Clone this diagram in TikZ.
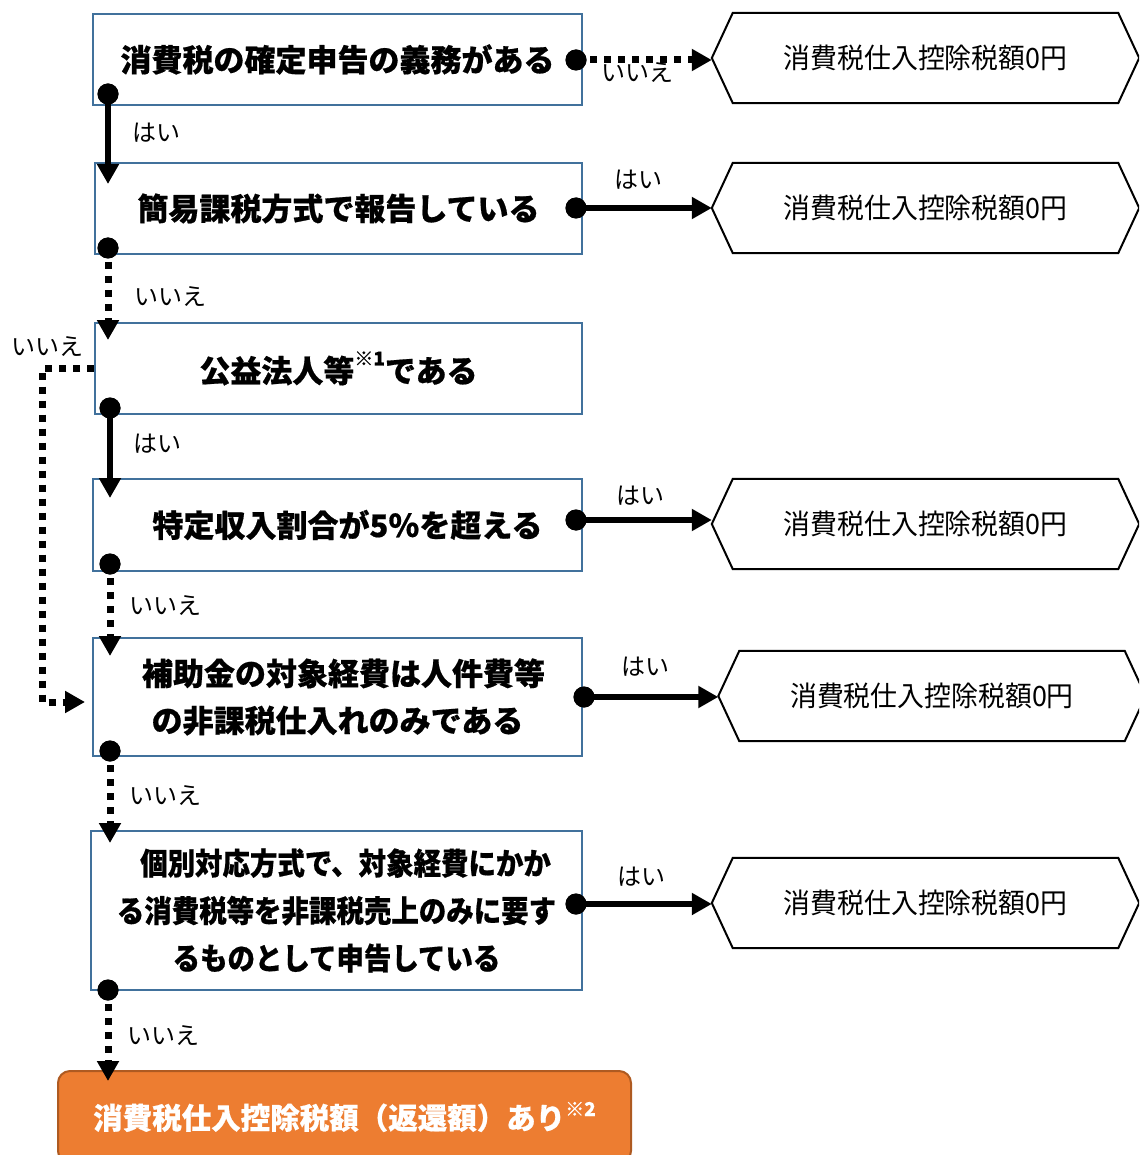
\documentclass[tikz,border=0pt]{standalone}
\usepackage{fontspec}
\newfontfamily\jp{Noto Sans CJK JP}
\newfontfamily\jpb[BoldFeatures={FakeBold=0.6}]{Noto Sans CJK JP}
\newfontfamily\jpc[FakeStretch=0.9,BoldFeatures={FakeBold=0.6}]{Noto Sans CJK JP}
\newfontfamily\jph[FakeStretch=0.96]{Noto Sans CJK JP}
\usetikzlibrary{arrows.meta,calc}
\definecolor{boxblue}{RGB}{65,113,156}
\definecolor{orangefill}{RGB}{237,125,49}
\definecolor{orangeline}{RGB}{174,90,33}
\begin{document}
\begin{tikzpicture}[x=1pt,y=-1pt,
  qbox/.style={draw=boxblue,line width=2pt,fill=white,inner sep=0pt,align=center,
    font={\jpb\bfseries\fontsize{31pt}{47pt}\selectfont}},
  qboxc/.style={qbox,font={\jpc\bfseries\fontsize{30.5pt}{47.5pt}\selectfont}},
  hextext/.style={inner sep=0pt,minimum width=385pt,minimum height=90pt,
    font={\jph\fontsize{28pt}{28pt}\selectfont}},
  hexline/.style={draw=black,line width=2pt,line join=miter},
  endbox/.style={draw=orangeline,line width=2pt,fill=orangefill,rounded corners=12pt,
    inner sep=0pt,minimum width=573pt,minimum height=92pt,text=white,
    font={\jpb\bfseries\fontsize{29.5pt}{29.5pt}\selectfont}},
  dotn/.style={circle,fill=black,minimum size=21pt,inner sep=0pt},
  solidarrow/.style={line width=6.5pt,-{Triangle[length=20pt,width=21pt]}},
  dotarrow/.style={line width=7pt,dash pattern=on 7pt off 7pt,-{Triangle[length=20pt,width=21pt]}},
  lbl/.style={inner sep=0pt,font={\jp\fontsize{24pt}{24pt}\selectfont}}]
\useasboundingbox (0,0) rectangle (1139,1155);
\clip (0,0) rectangle (1139,1155);

% question boxes
\node[qbox,minimum width=489pt,minimum height=91pt] (b1) at (337.5,59.5) {消費税の確定申告の義務がある};
\node[qbox,minimum width=487pt,minimum height=91pt] (b2) at (338.5,208.5) {簡易課税方式で報告している};
\node[qbox,minimum width=487pt,minimum height=91pt] (b3) at (338.5,368.5)
  {公益法人等\raisebox{17pt}{\fontsize{19pt}{19pt}\selectfont ※1}である};
\node[qbox,minimum width=489pt,minimum height=92pt] (b4) at (337.5,525)
  {\hspace*{20pt}特定収入割合が5％を超える};
\node[qbox,minimum width=489pt,minimum height=118pt] (b5) at (337.5,697)
  {\hspace*{12pt}補助金の対象経費は人件費等\\の非課税仕入れのみである};
\node[qboxc,minimum width=491pt,minimum height=159pt] (b6) at (336.5,910.5)
  {\hspace*{18pt}個別対応方式で、対象経費にかか\\る消費税等を非課税売上のみに要す\\るものとして申告している};
\node[endbox] (e) at (344.5,1117)
  {消費税仕入控除税額（返還額）あり\raisebox{13pt}{\fontsize{19pt}{19pt}\selectfont ※2}};

% result hexagons
\foreach \n/\x/\y in {h1/925.5/58,h2/925.5/208,h3/925.5/524,h4/932/696,h5/925.5/903}{
  \node[hextext] (\n) at (\x,\y) {消費税仕入控除税額0円};
  \draw[hexline] ($(\n.west)+(-21,0)$) -- (\n.north west) -- (\n.north east)
    -- ($(\n.east)+(21,0)$) -- (\n.south east) -- (\n.south west) -- cycle;
  \coordinate (\n-t) at ($(\n.west)+(-21,0)$);
}

% start dots
\node[dotn] (p1r) at (576,60) {};
\node[dotn] (p1d) at (108,94) {};
\node[dotn] (p2r) at (576,208) {};
\node[dotn] (p2d) at (108,248) {};
\node[dotn] (p3d) at (110,408) {};
\node[dotn] (p4r) at (576,520) {};
\node[dotn] (p4d) at (110,564) {};
\node[dotn] (p5r) at (584,697) {};
\node[dotn] (p5d) at (110,751) {};
\node[dotn] (p6r) at (576,904) {};
\node[dotn] (p6d) at (108,990) {};

% arrow tip coordinates
\coordinate (t2) at (108,184);
\coordinate (t3) at (108,340);
\coordinate (t4) at (110,498);
\coordinate (t5) at (110,656);
\coordinate (t6) at (110,843);
\coordinate (te) at (108,1081);
\coordinate (lc) at (42,702);
\coordinate (t5l) at (85,702);

% connectors
\draw[dotarrow] (p1r.center) -- (p1r.center -| h1-t);
\draw[solidarrow] (p1d.center) -- (t2);
\draw[solidarrow] (p2r.center) -- (p2r.center -| h2-t);
\draw[dotarrow] (p2d.center) -- (t3);
\draw[dotarrow] (b3.west) -| (lc) -- (t5l);
\draw[solidarrow] (p3d.center) -- (t4);
\draw[solidarrow] (p4r.center) -- (p4r.center -| h3-t);
\draw[dotarrow] (p4d.center) -- (t5);
\draw[solidarrow] (p5r.center) -- (p5r.center -| h4-t);
\draw[dotarrow] (p5d.center) -- (t6);
\draw[solidarrow] (p6r.center) -- (p6r.center -| h5-t);
\draw[dotarrow] (p6d.center) -- (te);

% redraw dots on top
\foreach \p in {p1r,p1d,p2r,p2d,p3d,p4r,p4d,p5r,p5d,p6r,p6d}{
  \fill (\p.center) circle[radius=10.5pt];
}

% labels
\node[lbl] (l1) at (637,73) {いいえ};
\node[lbl] (l2) at (156,133) {はい};
\node[lbl] (l3) at (638,180) {はい};
\node[lbl] (l4) at (170,297) {いいえ};
\node[lbl] (l5) at (47,347) {いいえ};
\node[lbl] (l6) at (157,444) {はい};
\node[lbl] (l7) at (640,496) {はい};
\node[lbl] (l8) at (165,606) {いいえ};
\node[lbl] (l9) at (645,667) {はい};
\node[lbl] (l10) at (165,796) {いいえ};
\node[lbl] (l11) at (641,877) {はい};
\node[lbl] (l12) at (163,1036) {いいえ};
\end{tikzpicture}
\end{document}
